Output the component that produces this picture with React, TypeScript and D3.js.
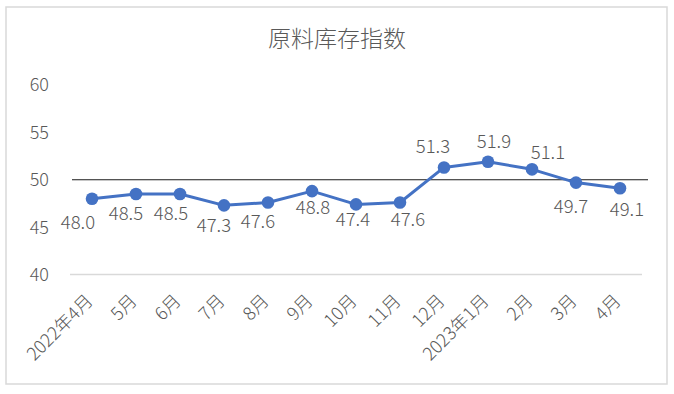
import React from 'react';
import * as d3 from 'd3';

const categories = ['2022年4月', '5月', '6月', '7月', '8月', '9月', '10月', '11月', '12月', '2023年1月', '2月', '3月', '4月'];
const values = [48.0, 48.5, 48.5, 47.3, 47.6, 48.8, 47.4, 47.6, 51.3, 51.9, 51.1, 49.7, 49.1];
const yTicks = [40, 45, 50, 55, 60];
const referenceValue = 50;

// manual data label placement (label centre relative to the marker)
const labelOffsets: [number, number][] = [
   [-14, 24], [-10, 19], [-9, 19], [-10, 20], [-10, 19], [1, 16], [-3, 15],
   [8, 17], [-11, -21], [6, -20], [16, -17], [-5, 24], [7, 21]
];

const W = 674;
const H = 394;
const textColor = '#595959';
const lineColor = '#4472C4';
const font = '"Noto Sans CJK SC", "Liberation Sans", sans-serif';

const App = () => {
   const x = d3.scaleBand<string>().domain(categories).range([70, 642]);
   const y = d3.scaleLinear().domain([40, 60]).range([274.5, 85]);
   const cx = (c: string) => (x(c) ?? 0) + x.bandwidth() / 2;

   const line = d3.line<number>()
      .x((d, i) => cx(categories[i]))
      .y(d => y(d));

   return (
      <svg width={W} height={H} style={{ position: 'absolute', left: 0, top: 0, background: '#fff' }}>
         <rect x={6} y={7} width={661} height={377} fill="#fff" stroke="#d9d9d9" strokeWidth={1.5} />

         <text x={337} y={47} textAnchor="middle" fontFamily={font} fontWeight={300} fontSize={23} fill={textColor}>
            原料库存指数
         </text>

         {/* y tick labels */}
         {yTicks.map(t => (
            <text key={t} x={49} y={y(t)} dy="0.36em" textAnchor="end" fontFamily={font} fontWeight={300} fontSize={18} fill={textColor}>
               {t}
            </text>
         ))}

         {/* baseline gridline */}
         <line x1={70} x2={642} y1={y(40)} y2={y(40)} stroke="#d9d9d9" strokeWidth={1.5} />

         {/* 50 reference line */}
         <line x1={72} x2={648} y1={y(referenceValue)} y2={y(referenceValue)} stroke="#1a1a1a" strokeWidth={1} />

         <path d={line(values) ?? ''} fill="none" stroke={lineColor} strokeWidth={3} strokeLinejoin="round" />
         {values.map((v, i) => (
            <circle key={i} cx={cx(categories[i])} cy={y(v)} r={6.3} fill={lineColor} />
         ))}

         {/* data labels */}
         {values.map((v, i) => (
            <text key={i} x={cx(categories[i]) + labelOffsets[i][0]} y={y(v) + labelOffsets[i][1]} dy="0.36em"
               textAnchor="middle" fontFamily={font} fontWeight={300} fontSize={18.5} fill={textColor}>
               {v.toFixed(1)}
            </text>
         ))}

         {/* x labels */}
         {categories.map(c => (
            <text key={c} transform={`translate(${cx(c) + 2}, 302) rotate(-45)`} textAnchor="end"
               fontFamily={font} fontWeight={300} fontSize={18} fill={textColor}>
               {c}
            </text>
         ))}
      </svg>
   );
};

export default App;
